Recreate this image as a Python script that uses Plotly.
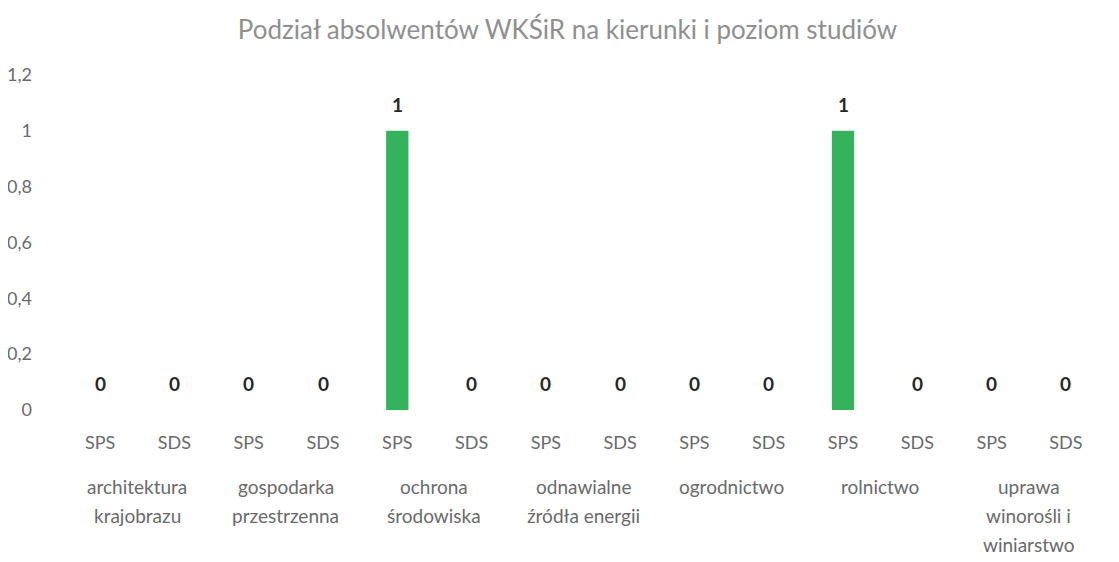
import plotly.graph_objects as go

levels = ["SPS", "SDS"] * 7
groups = ["architektura<br>krajobrazu", "gospodarka<br>przestrzenna", "ochrona<br>środowiska",
          "odnawialne<br>źródła energii", "ogrodnictwo", "rolnictwo",
          "uprawa<br>winorośli i<br>winiarstwo"]
values = [0, 0, 0, 0, 1, 0, 0, 0, 0, 0, 1, 0, 0, 0]
y_ticks = [0, 0.2, 0.4, 0.6, 0.8, 1, 1.2]
y_tick_text = ["0", "0,2", "0,4", "0,6", "0,8", "1", "1,2"]
title = "Podział absolwentów WKŚiR na kierunki i poziom studiów"

FONT = "Lato"
xs = list(range(len(values)))

fig = go.Figure()
fig.add_trace(go.Bar(x=xs, y=values, width=0.3,
                     marker=dict(color="#34b25c", line=dict(width=0))))

for x, v in zip(xs, values):
    fig.add_annotation(x=x, y=v, xref="x", yref="y", text="<b>%g</b>" % v,
                       showarrow=False, yanchor="bottom", yshift=13,
                       font=dict(family=FONT, size=19, color="#262626"))

for gi, g in enumerate(groups):
    cx = gi * 2 + 0.5
    for li, line in enumerate(g.split("<br>")):
        fig.add_annotation(x=cx, y=0, xref="x", yref="paper", text=line,
                           showarrow=False, yanchor="middle",
                           yshift=-76 - 29 * li,
                           font=dict(family=FONT, size=19, color="#6a6a6a"))

fig.update_layout(
    width=1119, height=562,
    margin=dict(l=55, r=24, t=67, b=160, autoexpand=False),
    paper_bgcolor="white", plot_bgcolor="white",
    showlegend=False,
    title=dict(text=title, x=0.5, xanchor="center", y=0.961, yanchor="middle",
               font=dict(family=FONT, size=26, color="#8f8f8f")),
    xaxis=dict(range=[-0.5, 13.5], tickvals=xs, ticktext=levels,
               showgrid=False, zeroline=False, showline=False, ticks="",
               automargin=False, ticklabelstandoff=20,
               tickfont=dict(family=FONT, size=18, color="#6a6a6a")),
    yaxis=dict(range=[0, 1.2], tickvals=y_ticks, ticktext=y_tick_text,
               showgrid=False, zeroline=False, showline=False, ticks="",
               automargin=False, ticklabelstandoff=30,
               tickfont=dict(family=FONT, size=18, color="#6a6a6a")),
)

fig.write_html("out.html")
